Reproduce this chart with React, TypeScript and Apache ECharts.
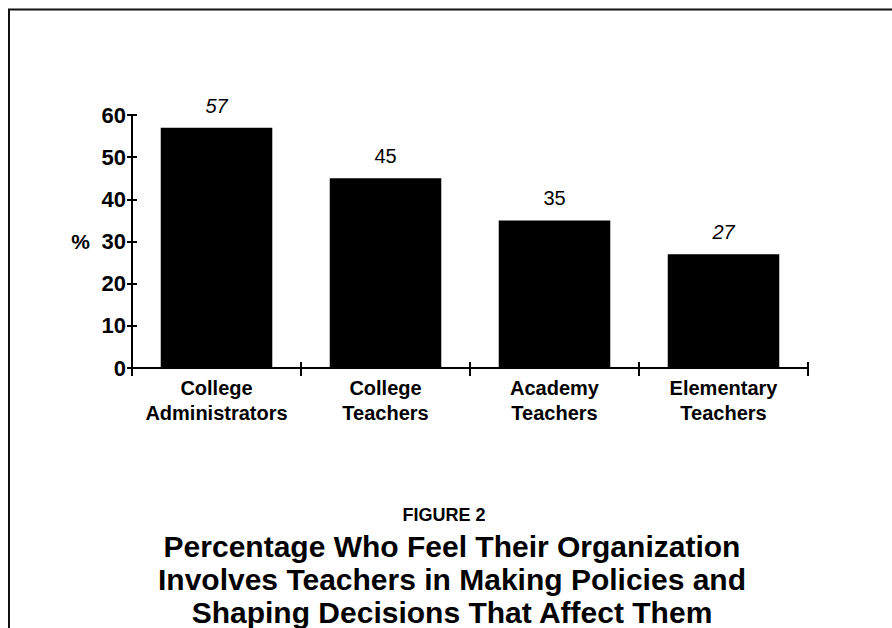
import React, { useEffect, useRef } from "react";
import * as echarts from "echarts";

const categories = ["College\nAdministrators", "College\nTeachers", "Academy\nTeachers", "Elementary\nTeachers"];
const values = [57, 45, 35, 27];
const italicLabels = [true, false, false, true];
const yTicks = { min: 0, max: 60, interval: 10 };
const figureLabel = "FIGURE 2";
const titleLines = [
  "Percentage Who Feel Their Organization",
  "Involves Teachers in Making Policies and",
  "Shaping Decisions That Affect Them",
];

const FONT = "'Liberation Sans', Arial, Helvetica, sans-serif";

export default function App() {
  const ref = useRef<HTMLDivElement>(null);
  useEffect(() => {
    if (!ref.current) return;
    const chart = echarts.init(ref.current, undefined, { renderer: "svg" });
    const yBase = {
      type: "value",
      min: yTicks.min,
      max: yTicks.max,
      interval: yTicks.interval,
      position: "left",
      offset: 0,
      splitLine: { show: false },
    };
    chart.setOption({
      animation: false,
      backgroundColor: "#fff",
      textStyle: { fontFamily: FONT, color: "#000" },
      grid: { left: 132, right: 84, top: 115, bottom: 260, containLabel: false },
      xAxis: [
        {
          type: "category",
          data: categories,
          position: "bottom",
          axisLine: { show: true, lineStyle: { color: "#000", width: 2 } },
          axisTick: { show: true, inside: false, length: 8, lineStyle: { color: "#000", width: 2 } },
          axisLabel: {
            fontFamily: FONT,
            fontWeight: "bold",
            fontSize: 20,
            lineHeight: 25,
            color: "#000",
            margin: 7,
            interval: 0,
          },
        },
        {
          type: "category",
          data: categories,
          position: "bottom",
          axisLine: { show: false },
          axisTick: { show: true, inside: true, length: 6, lineStyle: { color: "#000", width: 2 } },
          axisLabel: { show: false },
        },
      ],
      yAxis: [
        {
          ...yBase,
          name: "%",
          nameLocation: "middle",
          nameRotate: 0,
          nameGap: 42,
          nameTextStyle: { fontFamily: FONT, fontWeight: "bold", fontSize: 21, color: "#000" },
          axisLine: { show: true, lineStyle: { color: "#000", width: 2 } },
          axisTick: { show: true, inside: false, length: 5, lineStyle: { color: "#000", width: 2 } },
          axisLabel: { fontFamily: FONT, fontWeight: "bold", fontSize: 22, color: "#000", margin: 6 },
        },
        {
          ...yBase,
          axisLine: { show: false },
          axisTick: { show: true, inside: true, length: 5, lineStyle: { color: "#000", width: 2 } },
          axisLabel: { show: false },
        },
      ],
      series: [
        {
          type: "bar",
          xAxisIndex: 0,
          yAxisIndex: 0,
          barWidth: "66%",
          itemStyle: { color: "#000" },
          data: values.map((v, i) => ({
            value: v,
            label: { fontStyle: italicLabels[i] ? "italic" : "normal" },
          })),
          label: {
            show: true,
            position: "top",
            distance: 12,
            fontFamily: FONT,
            fontSize: 20,
            fontWeight: 500,
            color: "#000",
          },
        },
      ],
      graphic: [
        {
          type: "polyline",
          shape: { points: [[9, 628], [9, 9.5], [892, 9.5]] },
          style: { stroke: "#111", lineWidth: 2, fill: "none" },
          silent: true,
        },
        {
          type: "text",
          x: 444,
          y: 515,
          style: {
            text: figureLabel,
            textAlign: "center",
            textVerticalAlign: "middle",
            font: `bold 18px ${FONT}`,
            fill: "#000",
          },
        },
        {
          type: "text",
          x: 452,
          y: 579,
          style: {
            text: titleLines.join("\n"),
            textAlign: "center",
            textVerticalAlign: "middle",
            font: `bold 30px ${FONT}`,
            lineHeight: 33,
            fill: "#000",
          },
        },
      ],
    });
    return () => chart.dispose();
  }, []);
  return (
    <div
      ref={ref}
      style={{ position: "fixed", left: 0, top: 0, width: 892, height: 628, background: "#fff" }}
    />
  );
}
